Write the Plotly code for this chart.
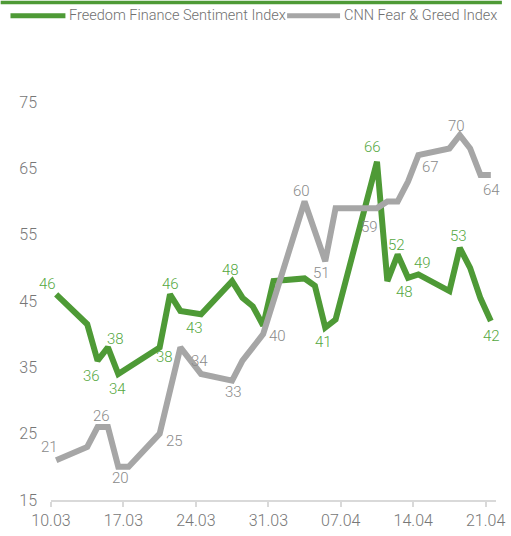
import plotly.graph_objects as go
import pandas as pd

# ---------------- data ----------------
ff_dates = ["2025-03-10", "2025-03-13", "2025-03-14", "2025-03-15", "2025-03-16",
            "2025-03-20", "2025-03-21", "2025-03-22", "2025-03-24", "2025-03-27",
            "2025-03-28", "2025-03-29", "2025-03-30", "2025-03-31", "2025-04-03",
            "2025-04-04", "2025-04-05", "2025-04-06", "2025-04-10", "2025-04-11",
            "2025-04-12", "2025-04-13", "2025-04-14", "2025-04-17", "2025-04-18",
            "2025-04-19", "2025-04-20", "2025-04-21"]
ff_values = [46, 41.5, 36, 38, 34,
             38, 46, 43.5, 43, 48,
             45.5, 44.2, 41.3, 48, 48.4,
             47.3, 41, 42.2, 66, 48,
             52, 48.5, 49, 46.5, 53,
             50, 45.4, 42]

cnn_dates = ["2025-03-10", "2025-03-13", "2025-03-14", "2025-03-15", "2025-03-16",
             "2025-03-17", "2025-03-20", "2025-03-22", "2025-03-24", "2025-03-27",
             "2025-03-28", "2025-03-30", "2025-04-03", "2025-04-05", "2025-04-06",
             "2025-04-10", "2025-04-11", "2025-04-12", "2025-04-13", "2025-04-14",
             "2025-04-17", "2025-04-18", "2025-04-19", "2025-04-20", "2025-04-21"]
cnn_values = [21, 23, 26, 26, 20,
              20, 25, 38, 34, 33,
              36, 40, 60, 51, 59,
              59, 60, 60, 63, 67,
              68, 70, 68, 64, 64]

series_names = ["Freedom Finance Sentiment Index", "CNN Fear & Greed Index"]
tick_dates = ["2025-03-10", "2025-03-17", "2025-03-24", "2025-03-31",
              "2025-04-07", "2025-04-14", "2025-04-21"]
tick_labels = ["10.03", "17.03", "24.03", "31.03", "07.04", "14.04", "21.04"]
y_ticks = [15, 25, 35, 45, 55, 65, 75]

# labelled points: date -> (dx, dy) pixel offset of the label (style only)
ff_label_offsets = {
    "2025-03-10": (-9, -10), "2025-03-14": (-6, 15), "2025-03-15": (8, -8),
    "2025-03-16": (-1, 15), "2025-03-20": (5, 10), "2025-03-21": (0, -10),
    "2025-03-24": (-7, 14), "2025-03-27": (-2, -11), "2025-04-05": (-2, 14),
    "2025-04-10": (-4, -15), "2025-04-11": (17, 11), "2025-04-12": (-1, -10),
    "2025-04-14": (4, -11), "2025-04-18": (-1, -12), "2025-04-21": (1, 15),
}
cnn_label_offsets = {
    "2025-03-10": (-7, -13), "2025-03-14": (4, -11), "2025-03-16": (2, 11),
    "2025-03-20": (15, 7), "2025-03-24": (-2, -13), "2025-03-27": (1, 11),
    "2025-03-30": (14, 2), "2025-04-03": (-3, -11), "2025-04-05": (-4, 12),
    "2025-04-10": (-7, 19), "2025-04-14": (12, 12), "2025-04-18": (-3, -9),
    "2025-04-21": (1, 15),
}

# ---------------- style ----------------
GREEN = "#4e9a36"
GREEN_TXT = "#55a83f"
GRAY = "#a6a6a6"
GRAY_TXT = "#8a8a8a"
AXIS_TXT = "#777777"
FONT = "Roboto, Liberation Sans, sans-serif"
WEIGHT = 300

W, H = 511, 536
L, R, T, B = 51.3, 6, 101.7, 34.3
PW, PH = W - L - R, H - T - B

half_day = pd.Timedelta(hours=12)

fig = go.Figure()
fig.add_trace(go.Scatter(x=ff_dates, y=ff_values, mode="lines", name=series_names[0],
                         line=dict(color=GREEN, width=6), showlegend=False))
fig.add_trace(go.Scatter(x=cnn_dates, y=cnn_values, mode="lines", name=series_names[1],
                         line=dict(color=GRAY, width=6), showlegend=False))

annotations = []
for dates, values, offsets, col in [(ff_dates, ff_values, ff_label_offsets, GREEN_TXT),
                                     (cnn_dates, cnn_values, cnn_label_offsets, GRAY_TXT)]:
    for d, v in zip(dates, values):
        if d in offsets:
            dx, dy = offsets[d]
            annotations.append(dict(x=d, y=v, xref="x", yref="y", text=f"{v:.0f}",
                                    showarrow=False, xanchor="center", yanchor="middle",
                                    xshift=dx, yshift=-dy,
                                    font=dict(family=FONT, size=15, color=col, weight=WEIGHT)))

def px_x(p):
    return (p - L) / PW

def px_y(p):
    return (H - B - p) / PH

# custom legend
legend_items = [(10, 66, 68, GREEN, series_names[0]), (292, 346, 348, GRAY, series_names[1])]
shapes = []
for x0, x1, xt, col, name in legend_items:
    shapes.append(dict(type="line", xref="paper", yref="paper",
                       x0=px_x(x0), x1=px_x(x1), y0=px_y(15), y1=px_y(15),
                       line=dict(color=col, width=5)))
    annotations.append(dict(x=px_x(xt), y=px_y(15), xref="paper", yref="paper", text=name,
                            showarrow=False, xanchor="left", yanchor="middle",
                            font=dict(family=FONT, size=14.5, color="#707070", weight=WEIGHT)))
# top green bar
shapes.append(dict(type="rect", xref="paper", yref="paper", x0=px_x(0), x1=px_x(W),
                   y0=px_y(0), y1=px_y(3.5), fillcolor=GREEN, line=dict(width=0)))

tickvals = [pd.Timestamp(d) - half_day for d in tick_dates]
fig.update_layout(
    width=W, height=H, autosize=False,
    margin=dict(l=L, r=R, t=T, b=B, pad=0),
    paper_bgcolor="white", plot_bgcolor="white",
    font=dict(family=FONT, color=AXIS_TXT),
    shapes=shapes, annotations=annotations,
    xaxis=dict(type="date",
               range=[pd.Timestamp(tick_dates[0]) - half_day,
                      pd.Timestamp(tick_dates[-1]) + half_day],
               tickvals=tickvals, ticktext=tick_labels,
               ticks="outside", ticklen=5, tickwidth=1.5, tickcolor="#d9d9d9",
               showline=True, linecolor="#d9d9d9", linewidth=1.5,
               showgrid=False, zeroline=False, ticklabeloverflow="allow",
               tickfont=dict(family=FONT, size=16, color=AXIS_TXT, weight=WEIGHT)),
    yaxis=dict(range=[15, 75], tickvals=y_ticks, ticks="",
               showline=False, showgrid=False, zeroline=False,
               ticklabelstandoff=13,
               tickfont=dict(family=FONT, size=16, color=AXIS_TXT, weight=WEIGHT)),
)

fig.write_html("out.html", config={"displayModeBar": False},
               post_script="document.body.style.margin='0';document.body.style.overflow='hidden';")
